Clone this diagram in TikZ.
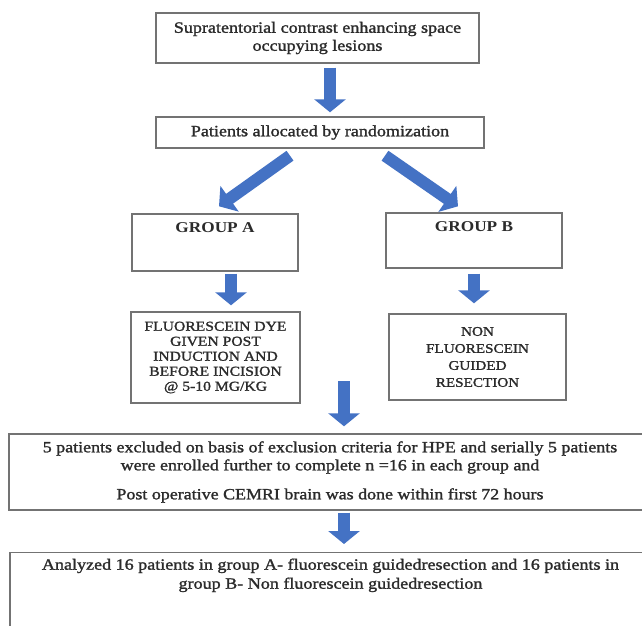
\documentclass[tikz,border=0pt]{standalone}
\usepackage{fontspec}
\setmainfont{Liberation Serif}[FakeStretch=1.15, UprightFeatures={FakeBold=1.5}]
\usetikzlibrary{arrows.meta,positioning}
\definecolor{xanh}{HTML}{4472C4}
\definecolor{vien}{HTML}{737373}
\definecolor{chu}{HTML}{2B2B2B}
\begin{document}
\begin{tikzpicture}[x=1bp, y=-1bp, line join=miter,
	hop/.style={draw=vien, line width=1.4bp, text=chu, align=center, inner sep=0pt},
	muiten/.style={draw=xanh, line width=12bp, -{Triangle[width=31bp,length=13bp]}}]
			\def\W{642}
			\def\H{626}
			\useasboundingbox (0,0) rectangle (\W,\H);
			\clip (0,0) rectangle (\W,\H);
			% Các hộp
			\node[hop, minimum width=323bp, minimum height=50bp, font=\fontsize{15.7bp}{18bp}\selectfont] (tonthuong) at (317.5,38) {Supratentorial contrast enhancing space\\occupying lesions};
			\node[hop, minimum width=328bp, minimum height=31bp, font=\fontsize{15.7bp}{18bp}\selectfont] (phanbo) at (320,132.5) {Patients allocated by randomization};
			\node[hop, minimum width=166bp, text height=18bp, text depth=39bp, font=\bfseries\fontsize{15bp}{18bp}\selectfont] (nhomA) at (215,242.5) {GROUP A};
			\node[hop, minimum width=176bp, text height=18bp, text depth=37bp, font=\bfseries\fontsize{15bp}{18bp}\selectfont] (nhomB) at (474,240.5) {GROUP B};
			\node[hop, minimum width=169bp, minimum height=91bp, font=\fontsize{13.6bp}{15bp}\selectfont] (fluor) at (215.5,357.5) {FLUORESCEIN DYE\\GIVEN POST\\INDUCTION AND\\BEFORE INCISION\\@ 5-10 MG/KG};
			\node[hop, minimum width=177bp, minimum height=86bp, font=\fontsize{13.2bp}{17bp}\selectfont] (khongfluor) at (477.5,357) {NON\\FLUORESCEIN\\GUIDED\\RESECTION};
			\node[hop, minimum width=642bp, minimum height=76bp, font=\fontsize{15.6bp}{18bp}\selectfont] (loaitru) at (330,472) {5 patients excluded on basis of exclusion criteria for HPE and serially 5 patients\\were enrolled further to complete n =16 in each group and\\[11bp]Post operative CEMRI brain was done within first 72 hours};
			\node[hop, anchor=north, font=\fontsize{15.7bp}{19bp}\selectfont] (phantich) at (330.5,552) {\parbox[c][130bp][t]{641bp}{\centering\rule{0pt}{17bp}Analyzed 16 patients in group A- fluorescein guidedresection and 16 patients in\\group B- Non fluorescein guidedresection}};
			% Các mũi tên
			\draw[muiten, shorten <=4bp, shorten >=4bp] ([xshift=12.5bp]tonthuong.south) -- ([xshift=12.5bp]tonthuong.south |- phanbo.north);
			\draw[muiten] ([shift={(-30,7)}]phanbo.south) -- ([shift={(4,-7)}]nhomA.north);
			\draw[muiten] ([shift={(65,7)}]phanbo.south) -- ([shift={(-16,-6)}]nhomB.north);
			\draw[muiten, shorten <=2bp, shorten >=6bp] ([xshift=16bp]nhomA.south) -- ([xshift=16bp]nhomA.south |- fluor.north);
			\draw[muiten, shorten <=5bp, shorten >=10bp] (nhomB.south) -- (nhomB.south |- khongfluor.north);
			\coordinate (hoi) at (344,381);
			\draw[muiten, shorten >=7bp] (hoi) -- (hoi |- loaitru.north);
			\draw[muiten, shorten <=2bp, shorten >=8bp] ([xshift=14bp]loaitru.south) -- ([xshift=14bp]loaitru.south |- phantich.north);
	\end{tikzpicture}
\end{document}
